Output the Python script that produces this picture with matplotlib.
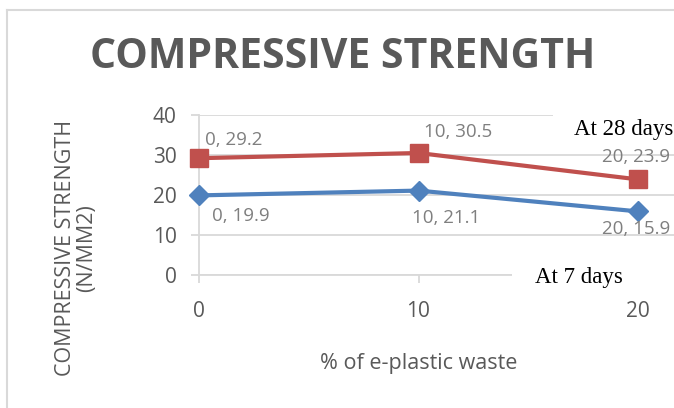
import matplotlib
matplotlib.use("Agg")
import matplotlib.pyplot as plt
from matplotlib.lines import Line2D

# ---- data ----
x_vals = [0, 10, 20]
strength_28 = [29.2, 30.5, 23.9]
strength_7 = [19.9, 21.1, 15.9]
y_ticks = [0, 10, 20, 30, 40]
x_ticks = [0, 10, 20]
title = "COMPRESSIVE STRENGTH"
y_label = "COMPRESSIVE STRENGTH\n(N/MM2)"
x_label = "% of e-plastic waste"

W, H = 674, 408
fig = plt.figure(figsize=(W / 100, H / 100), dpi=100)
fig.patch.set_facecolor("white")

def fx(px):
    return px / W

def fy(py):
    return 1 - py / H

# chart frame lines (left and top)
fig.add_artist(Line2D([fx(7), fx(7)], [fy(10), fy(408)], color="#d9d9d9", lw=1.5))
fig.add_artist(Line2D([fx(7), fx(674)], [fy(10), fy(10)], color="#d9d9d9", lw=1.5))

left_px, right_px, top_px, bot_px = 199, 680, 115, 275
ax = fig.add_axes([fx(left_px), fy(bot_px), (right_px - left_px) / W, (bot_px - top_px) / H])
px_per_unit = (638 - 199) / 20.0
ax.set_xlim(0, (right_px - left_px) / px_per_unit)
ax.set_ylim(0, 40)

font = "Open Sans"
grey_tick = "#595959"
grey_lab = "#7f7f7f"
grid_c = "#d9d9d9"

for s in ["top", "right"]:
    ax.spines[s].set_visible(False)
for s in ["left", "bottom"]:
    ax.spines[s].set_color(grid_c)
    ax.spines[s].set_linewidth(1.3)
ax.set_yticks(y_ticks)
ax.set_xticks(x_ticks)
ax.tick_params(axis="both", colors=grid_c, length=6, width=1.3, direction="out")
ax.tick_params(axis="y", labelcolor=grey_tick, labelsize=15, pad=10)
ax.tick_params(axis="x", labelcolor=grey_tick, labelsize=15, pad=13)
for lab in ax.get_xticklabels() + ax.get_yticklabels():
    lab.set_fontfamily(font)
ax.yaxis.grid(True, color=grid_c, lw=1.3)
ax.set_axisbelow(True)
ax.set_facecolor("none")

red = "#C0504D"
blue = "#4F81BD"
ax.plot(x_vals, strength_28, color=red, lw=3, marker="s", markersize=12.5, zorder=3, clip_on=False)
ax.plot(x_vals, strength_7, color=blue, lw=3, marker="D", markersize=10, zorder=3, clip_on=False)

# data labels (offsets in pixels -> points)
k = 72 / 100.0
offs_28 = [(6, 18, "left"), (5, 21, "left"), (-2, 22, "center")]
offs_7 = [(13, -21, "left"), (-6, -27, "left"), (-2, -18, "center")]
for xv, yv, (dx, dy, ha) in zip(x_vals, strength_28, offs_28):
    ax.annotate(f"{xv}, {yv}", (xv, yv), xytext=(dx * k, dy * k), textcoords="offset points",
                ha=ha, va="center", fontsize=13.5, color=grey_lab, fontfamily=font, annotation_clip=False)
for xv, yv, (dx, dy, ha) in zip(x_vals, strength_7, offs_7):
    ax.annotate(f"{xv}, {yv}", (xv, yv), xytext=(dx * k, dy * k), textcoords="offset points",
                ha=ha, va="center", fontsize=13.5, color=grey_lab, fontfamily=font, annotation_clip=False)

# title
fig.text(fx(343), fy(57), title, ha="center", va="center", fontsize=29.5, fontweight="bold",
         color=grey_tick, fontfamily=font)

# axis titles
fig.text(fx(76), fy(248), y_label, ha="center", va="center", rotation=90, fontsize=15.5,
         color=grey_tick, fontfamily=font, linespacing=1.05, multialignment="center")
fig.text(fx(419), fy(363), x_label, ha="center", va="center", fontsize=15.5,
         color=grey_tick, fontfamily=font)

# text boxes with white background
fig.patches.append(plt.Rectangle((fx(553), fy(125)), fx(130), 20 / H, transform=fig.transFigure,
                                 facecolor="white", edgecolor="none", zorder=0.5))
fig.text(fx(574), fy(130), "At 28 days", ha="left", va="center", fontsize=16.5,
         fontfamily="Liberation Serif", color="black", zorder=5)
fig.patches.append(plt.Rectangle((fx(512), fy(290)), fx(170), 25 / H, transform=fig.transFigure,
                                 facecolor="white", edgecolor="none", zorder=0.5))
fig.text(fx(535), fy(278), "At 7 days", ha="left", va="center", fontsize=16.5,
         fontfamily="Liberation Serif", color="black", zorder=5)

fig.savefig("out.png", dpi=100)
